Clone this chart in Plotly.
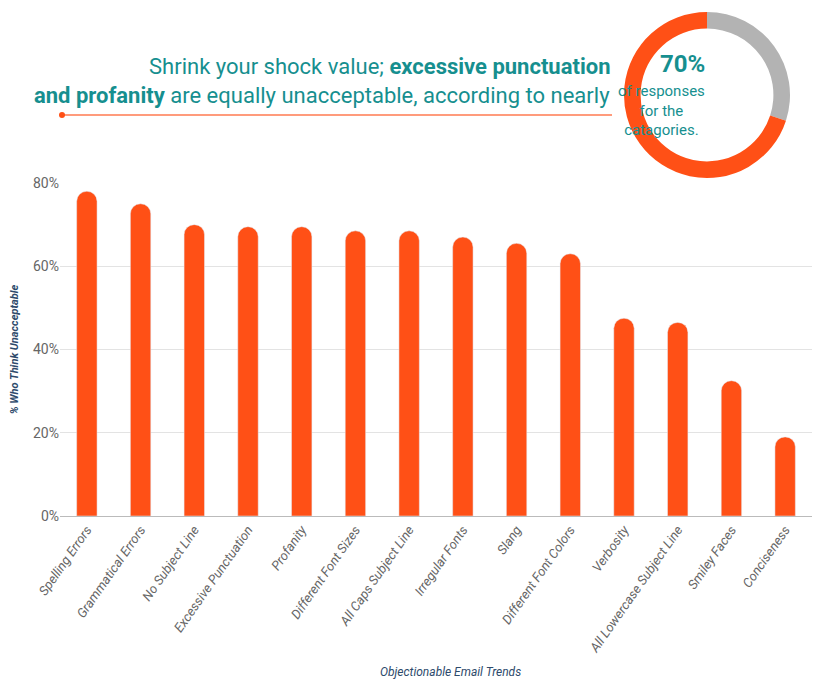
import plotly.graph_objects as go

categories = [
    "Spelling Errors", "Grammatical Errors", "No Subject Line", "Excessive Punctuation",
    "Profanity", "Different Font Sizes", "All Caps Subject Line", "Irregular Fonts",
    "Slang", "Different Font Colors", "Verbosity", "All Lowercase Subject Line",
    "Smiley Faces", "Conciseness",
]
values = [78, 75, 70, 69.5, 69.5, 68.5, 68.5, 67, 65.5, 63, 47.5, 46.5, 32.5, 19]
ring_values = [30, 70]  # gray remainder, orange share
ring_colors = ["#b3b3b3", "#ff5016"]

W, H = 840, 689
OFF = 8  # page body margin
TEAL = "#168f8f"
ORANGE = "#ff5016"
NAVY = "#2d4a6b"


def px(x):
    return (x - OFF) / W


def py(y):
    return 1 - (y - OFF) / H


fig = go.Figure()
fig.add_trace(go.Bar(
    x=categories, y=values,
    marker=dict(color=ORANGE, cornerradius=10),
    width=0.38, hoverinfo="x+y",
))
fig.add_trace(go.Pie(
    values=ring_values, marker=dict(colors=ring_colors),
    hole=0.8, sort=False, direction="clockwise", rotation=0,
    textinfo="none", showlegend=False,
    domain=dict(x=[px(707 - 83), px(707 + 83)], y=[py(178), min(py(12), 1)]),
))

fig.update_layout(
    width=W, height=H, autosize=False,
    margin=dict(l=0, r=0, t=0, b=0, pad=0),
    paper_bgcolor="white", plot_bgcolor="white",
    font=dict(family="Roboto, sans-serif", color="#666"),
    showlegend=False,
    xaxis=dict(
        domain=[px(60), px(812)], automargin=False, tickangle=-55,
        tickfont=dict(size=13, color="#666"), showline=True, linecolor="#bbb",
        ticks="", showgrid=False, tickprefix="<i>", ticksuffix="</i>",
    ),
    yaxis=dict(
        domain=[py(516), py(183)], automargin=False,
        range=[0, 80], dtick=20, ticksuffix="%", gridcolor="#e3e3e3",
        tickfont=dict(size=14, color="#666"), zeroline=False,
        title=dict(text="<i><b>% Who Think Unacceptable</b></i>",
                   font=dict(size=11, color=NAVY), standoff=14),
    ),
    annotations=[
        dict(x=px(612), y=py(66), xref="paper", yref="paper", xanchor="right",
             yanchor="middle", showarrow=False,
             font=dict(size=22, color=TEAL, family="Roboto"),
             text="Shrink your shock value; <b>excessive punctuation</b>"),
        dict(x=px(612), y=py(96), xref="paper", yref="paper", xanchor="right",
             yanchor="middle", showarrow=False,
             font=dict(size=22, color=TEAL, family="Roboto"),
             text="<b>and profanity</b> are equally unacceptable, according to nearly"),
        dict(x=px(707), y=py(64), xref="paper", yref="paper", yanchor="middle",
             showarrow=False, font=dict(size=24, color=TEAL), text="<b>70%</b>"),
        dict(x=px(707), y=py(110), xref="paper", yref="paper", yanchor="middle",
             showarrow=False, font=dict(size=15, color=TEAL),
             text="of responses<br>for the<br>catagories."),
        dict(x=px(450), y=py(672), xref="paper", yref="paper", yanchor="middle",
             showarrow=False, font=dict(size=12, color=NAVY),
             text="<i>Objectionable Email Trends</i>"),
    ],
    shapes=[
        dict(type="line", xref="paper", yref="paper", x0=px(62), x1=px(612),
             y0=py(115), y1=py(115), line=dict(color="#ff7a50", width=1.5)),
        dict(type="circle", xref="paper", yref="paper", x0=px(59), x1=px(65),
             y0=py(118), y1=py(112), fillcolor=ORANGE, line=dict(width=0)),
    ],
)

fig.write_html("out.html")
